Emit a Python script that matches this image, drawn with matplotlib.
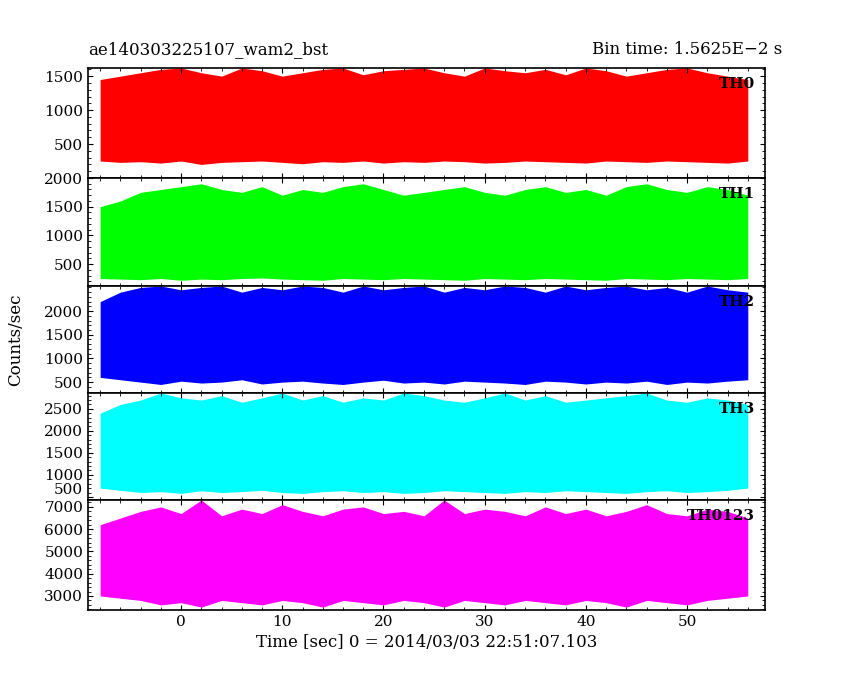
import matplotlib
matplotlib.use("Agg")
import matplotlib.pyplot as plt
import numpy as np

plt.rcParams['font.family'] = ['DejaVu Serif']

time = np.arange(-8, 57, 2)  # 33 bins
names = ["TH0", "TH1", "TH2", "TH3", "TH0123"]
colors = ["#ff0000", "#00ff00", "#0000ff", "#00ffff", "#ff00ff"]
ylims = [(0, 1620), (120, 2000), (270, 2530), (430, 2860), (2370, 7310)]
yticks = [[500, 1000, 1500], [500, 1000, 1500, 2000], [500, 1000, 1500, 2000],
          [500, 1000, 1500, 2000, 2500], [3000, 4000, 5000, 6000, 7000]]

th0_hi = [1450,1500,1550,1600,1620,1550,1500,1620,1580,1500,1550,1600,1620,1520,1580,1600,1620,1550,1500,1620,1580,1550,1600,1520,1620,1580,1500,1550,1600,1620,1550,1500,1450]
th0_lo = [250,230,240,220,250,200,230,240,250,230,210,240,230,250,220,240,230,250,240,220,230,250,240,230,220,250,240,230,250,240,230,220,250]
th1_hi = [1500,1600,1750,1800,1850,1900,1800,1750,1850,1700,1800,1750,1850,1900,1800,1700,1750,1800,1850,1750,1700,1800,1850,1750,1800,1700,1850,1900,1800,1750,1850,1800,1700]
th1_lo = [250,240,230,250,220,240,230,250,260,240,230,220,250,240,230,250,240,230,220,250,240,230,250,240,230,220,250,240,230,250,240,230,250]
th2_hi = [2200,2400,2500,2530,2450,2500,2530,2400,2500,2450,2530,2500,2400,2530,2450,2500,2530,2400,2500,2450,2530,2500,2400,2530,2450,2500,2530,2450,2500,2400,2530,2450,2400]
th2_lo = [600,550,500,450,520,480,500,550,460,500,520,480,450,500,540,480,500,460,520,500,480,450,520,500,460,500,480,520,450,500,480,520,550]
th3_hi = [2400,2600,2700,2860,2750,2700,2800,2650,2750,2860,2700,2800,2650,2750,2700,2860,2800,2700,2650,2750,2860,2700,2800,2650,2700,2750,2800,2860,2700,2650,2750,2700,2600]
th3_lo = [700,650,600,620,580,640,600,620,650,600,580,620,640,600,620,580,600,640,620,600,580,620,600,640,620,600,580,620,640,600,620,650,700]
th4_hi = [6200,6500,6800,7000,6700,7310,6600,6900,6700,7100,6800,6600,6900,7000,6700,6800,6600,7310,6700,6900,6800,6600,7000,6700,6900,6600,6800,7100,6700,6600,6900,6800,6500]
th4_lo = [3000,2900,2800,2600,2700,2500,2800,2700,2600,2800,2700,2500,2800,2700,2600,2800,2700,2500,2800,2700,2600,2800,2700,2600,2800,2700,2500,2800,2700,2600,2800,2900,3000]
his = [th0_hi, th1_hi, th2_hi, th3_hi, th4_hi]
los = [th0_lo, th1_lo, th2_lo, th3_lo, th4_lo]

fig = plt.figure(figsize=(8.5, 6.8), dpi=100)
tops = [68, 178, 286, 393, 500, 610]
L, R = 88/850, 765/850
axes = []
for i in range(5):
    y0 = 1 - tops[i+1]/680
    h = (tops[i+1]-tops[i])/680
    ax = fig.add_axes([L, y0, R-L, h])
    axes.append(ax)
    ax.fill_between(time, los[i], his[i], color=colors[i], linewidth=0)
    ax.set_xlim(-9.2, 57.7)
    ax.set_ylim(*ylims[i])
    ax.set_yticks(yticks[i])
    ax.tick_params(direction='in', which='both', top=True, right=True, labelsize=11)
    ax.minorticks_on()
    ax.text(0.985, 0.85, names[i], transform=ax.transAxes, ha='right', va='center', fontsize=11, fontweight='bold')
    if i < 4:
        ax.tick_params(labelbottom=False)
    for s in ax.spines.values():
        s.set_linewidth(1.2)
fig.canvas.draw()
axes[3].get_yticklabels()[0].set_va('bottom')
axes[-1].set_xlabel("Time [sec] 0 = 2014/03/03 22:51:07.103", fontsize=12)
fig.text(0.018, 0.5, "Counts/sec", rotation=90, va='center', ha='center', fontsize=12)
fig.text(L, 1-58/680, "ae140303225107_wam2_bst", fontsize=12, ha='left', va='bottom')
fig.text(R+0.02, 1-58/680, "Bin time: 1.5625E\u22122 s", fontsize=12, ha='right', va='bottom')
fig.savefig("out.png", dpi=100)
